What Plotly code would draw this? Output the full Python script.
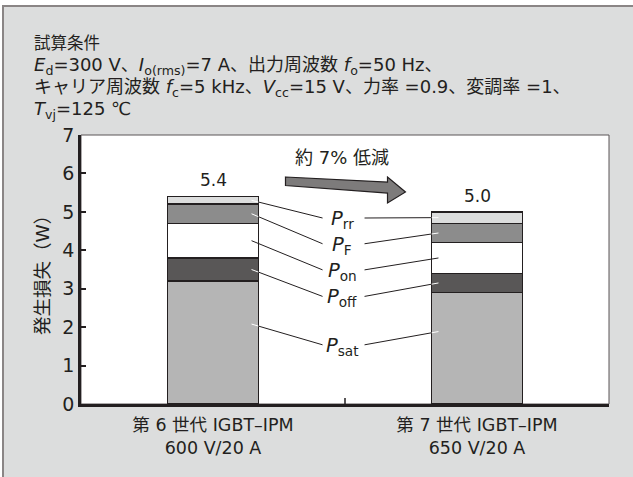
import plotly.graph_objects as go

# ---- data ----
categories = ["第 6 世代 IGBT–IPM<br>600 V/20 A", "第 7 世代 IGBT–IPM<br>650 V/20 A"]
series_names = ["P_sat", "P_off", "P_on", "P_F", "P_rr"]
series_labels = ["<i>P</i><sub>sat</sub>", "<i>P</i><sub>off</sub>", "<i>P</i><sub>on</sub>",
                 "<i>P</i><sub>F</sub>", "<i>P</i><sub>rr</sub>"]
p_sat = [3.2, 2.9]
p_off = [0.6, 0.5]
p_on = [0.9, 0.8]
p_f = [0.5, 0.5]
p_rr = [0.2, 0.3]
totals = [5.4, 5.0]
reduction_text = "約 7% 低減"

# ---- style ----
INK = "#231f20"
PANEL = "#dcdddd"
colors = ["#b5b5b5", "#595757", "#ffffff", "#8c8c8c", "#dcdddd"]
FONT = "DejaVu Sans, Noto Sans CJK JP, sans-serif"
BAR_W = 0.345
xpos = [0, 1]

series = [p_sat, p_off, p_on, p_f, p_rr]

fig = go.Figure()
for name, vals, col in zip(series_names, series, colors):
    fig.add_trace(go.Bar(
        x=xpos, y=vals, name=name, width=BAR_W,
        marker=dict(color=col, line=dict(color=INK, width=1.6)),
        hoverinfo="y+name", showlegend=False,
    ))

# totals above each bar
for x, t in zip(xpos, totals):
    fig.add_annotation(x=x, y=t, yshift=4, text=f"{t:.1f}", showarrow=False,
                       yanchor="bottom", font=dict(size=17, color=INK))

shapes = []

# background panel with grey rule on top/left
shapes.append(dict(type="rect", xref="paper", yref="paper", layer="below",
                   x0=-78 / 528, x1=40 / 528 + 1, y0=-80 / 269, y1=1 + 129 / 269,
                   fillcolor=PANEL, line=dict(color="#8a8585", width=2)))
# white plot area with thin top/right frame
shapes.append(dict(type="rect", xref="paper", yref="paper", layer="below",
                   x0=0, x1=1, y0=0, y1=1, fillcolor="white",
                   line=dict(color="#5a5556", width=1)))

# leader lines from each segment to its label
label_x = 0.49
label_y = [1.50, 2.76, 3.45, 4.13, 4.80]
anchor_frac = [0.65, 0.5, 0.5, 0.5, 0.5]
inner_left, edge_left, end_left = 0.146, BAR_W / 2, 0.415
inner_right, edge_right, end_right = 1 - 0.146, 1 - BAR_W / 2, 0.574

for i, (name, lab, ly) in enumerate(zip(series_names, series_labels, label_y)):
    fig.add_annotation(x=label_x, y=ly, text=lab, showarrow=False,
                       font=dict(size=19.5, color=INK))
    for b, (xi, xe, xl) in enumerate([(inner_left, edge_left, end_left),
                                      (inner_right, edge_right, end_right)]):
        base = sum(s[b] for s in series[:i])
        ya = base + series[i][b] * anchor_frac[i]
        yl = ly + 0.04
        t = (xe - xi) / (xl - xi)
        ye = ya + (yl - ya) * t
        inner_col = INK if colors[i] == "#ffffff" else "white"
        shapes.append(dict(type="line", xref="x", yref="y", x0=xi, y0=ya, x1=xe, y1=ye,
                           line=dict(color=inner_col, width=1)))
        shapes.append(dict(type="line", xref="x", yref="y", x0=xe, y0=ye, x1=xl, y1=yl,
                           line=dict(color=INK, width=1)))

# block arrow between the two bars
arrow_pts = [(0.2746, 5.907), (0.661, 5.777), (0.661, 5.907), (0.729, 5.517),
             (0.661, 5.230), (0.661, 5.490), (0.2746, 5.686)]
path = "M " + " L ".join(f"{x},{y}" for x, y in arrow_pts) + " Z"
shapes.append(dict(type="path", xref="x", yref="y", path=path,
                   fillcolor="#7d7b7b", line=dict(color=INK, width=1.2)))
fig.add_annotation(x=0.49, y=6.41, text=reduction_text, showarrow=False,
                   font=dict(size=18, color=INK))

# middle tick on the category axis
shapes.append(dict(type="line", xref="x", yref="paper", x0=0.5, x1=0.5, y0=0, y1=6 / 269,
                   line=dict(color=INK, width=1.5)))

# calculation conditions (one block, first line slightly smaller)
cond_lines = [
    "試算条件",
    "<i>E</i><sub>d</sub>=300 V、<i>I</i><sub>o(rms)</sub>=7 A、出力周波数 <i>f</i><sub>o</sub>=50 Hz、",
    "キャリア周波数 <i>f</i><sub>c</sub>=5 kHz、<i>V</i><sub>cc</sub>=15 V、力率 =0.9、変調率 =1、",
    "<i>T</i><sub>vj</sub>=125 ℃",
]
cond_size = [16.5, 18, 18, 18]
cond_text = "<br>".join(f"<span style='font-size:{fs}px'>{txt}</span>"
                        for txt, fs in zip(cond_lines, cond_size))
fig.add_annotation(xref="paper", yref="paper", x=(32 - 81) / 528, y=(404 - 78) / 269,
                   xanchor="left", yanchor="middle", align="left", text=cond_text,
                   showarrow=False, font=dict(size=17, color=INK))

# y-axis title
fig.add_annotation(xref="paper", yref="paper", x=(42 - 81) / 528, y=(404 - 271) / 269,
                   text="発生損失（W）", textangle=-90, showarrow=False,
                   xanchor="center", yanchor="middle", font=dict(size=18.5, color=INK))

fig.update_layout(
    width=633, height=477,
    margin=dict(l=81, r=24, t=135, b=73),
    barmode="stack",
    paper_bgcolor="white", plot_bgcolor="rgba(0,0,0,0)",
    font=dict(family=FONT, color=INK),
    shapes=shapes,
    xaxis=dict(range=[-0.5, 1.5], tickvals=xpos, ticktext=categories, ticks="",
               showgrid=False, zeroline=False, showline=True, linecolor=INK, linewidth=2.5,
               tickfont=dict(size=17.5, color=INK), ticklabelstandoff=3, fixedrange=True),
    yaxis=dict(range=[0, 7], dtick=1, ticks="inside", ticklen=5, tickwidth=1.5,
               tickcolor=INK, showgrid=False, zeroline=False, showline=True,
               linecolor=INK, linewidth=2.5, tickfont=dict(size=19, color=INK),
               fixedrange=True),
)

fig.write_html("out.html")
